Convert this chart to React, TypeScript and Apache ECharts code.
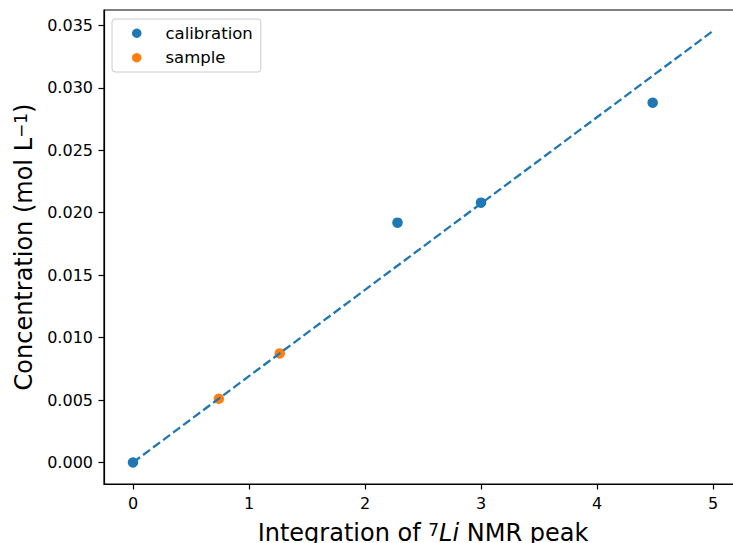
import React, { useEffect, useRef } from "react";
import * as echarts from "echarts";

// Calibration standards: integrated 7Li NMR peak vs. known concentration
const calibrationX = [0, 2.28, 3.0, 4.48];
const calibrationY = [0, 0.0192, 0.0208, 0.0288];

// Unknown samples placed on the calibration line
const sampleX = [0.74, 1.265];
const sampleY = [0.0051, 0.00873];

// Linear fit through the origin
const fitX = [0, 5];
const fitY = [0, 0.03455];

const xTicks = [0, 1, 2, 3, 4, 5];
const yTicks = [0, 0.005, 0.01, 0.015, 0.02, 0.025, 0.03, 0.035];

const FONT = "DejaVu Sans";
const BLUE = "#1f77b4";
const ORANGE = "#ff7f0e";

export default function App() {
  const ref = useRef<HTMLDivElement>(null);

  useEffect(() => {
    if (!ref.current) return;
    const chart = echarts.init(ref.current, null, { renderer: "svg" });

    const pair = (xs: number[], ys: number[]) => xs.map((x, i) => [x, ys[i]]);

    chart.setOption({
      animation: false,
      backgroundColor: "#ffffff",
      textStyle: { fontFamily: FONT },
      grid: {
        left: 104,
        top: 10,
        right: 18,
        bottom: 59,
        outerBoundsMode: "none",
        containLabel: false,
        show: true,
        borderColor: "#000",
        borderWidth: 1.2,
        backgroundColor: "transparent",
      },
      legend: {
        orient: "vertical",
        left: 112,
        top: 19,
        padding: [5, 8, 5, 20],
        itemGap: 6,
        itemWidth: 9.5,
        itemHeight: 9.5,
        icon: "circle",
        backgroundColor: "rgba(255,255,255,0.8)",
        borderColor: "#cccccc",
        borderWidth: 1,
        borderRadius: 3,
        textStyle: {
          fontFamily: FONT,
          fontSize: 16.5,
          color: "#000",
          lineHeight: 18.5,
          padding: [0, 0, 0, 19],
        },
        data: ["calibration", "sample"],
      },
      xAxis: {
        type: "value",
        min: -0.25,
        max: 5.25,
        splitLine: { show: false },
        axisLine: { show: true, onZero: false, lineStyle: { color: "#000", width: 1.2 } },
        axisTick: {
          show: true,
          length: 5.5,
          lineStyle: { color: "#000", width: 1.2 },
          customValues: xTicks,
        },
        axisLabel: {
          customValues: xTicks,
          margin: 11,
          fontFamily: FONT,
          fontSize: 16,
          color: "#000",
          formatter: (v: number) => String(v),
        },
        name: "{t|Integration of }{sup|7}{it|Li}{t| NMR peak}",
        nameLocation: "middle",
        nameGap: 37,
        nameTextStyle: {
          fontFamily: FONT,
          fontSize: 24,
          color: "#000",
          verticalAlign: "top",
          rich: {
            t: { fontFamily: FONT, fontSize: 24, color: "#000" },
            it: { fontFamily: FONT, fontSize: 24, color: "#000", fontStyle: "italic" },
            sup: { fontFamily: FONT, fontSize: 17, color: "#000", verticalAlign: "top" },
          },
        },
      },
      yAxis: {
        type: "value",
        min: -0.001725,
        max: 0.036225,
        splitLine: { show: false },
        axisLine: { show: true, onZero: false, lineStyle: { color: "#000", width: 1.2 } },
        axisTick: {
          show: true,
          length: 5.5,
          lineStyle: { color: "#000", width: 1.2 },
          customValues: yTicks,
        },
        axisLabel: {
          customValues: yTicks,
          margin: 11,
          fontFamily: FONT,
          fontSize: 16,
          color: "#000",
          formatter: (v: number) => v.toFixed(3),
        },
        name: "{t|Concentration (mol L}{sup|−1}{t|)}",
        nameLocation: "middle",
        nameGap: 65,
        nameTextStyle: {
          fontFamily: FONT,
          fontSize: 24,
          color: "#000",
          rich: {
            t: { fontFamily: FONT, fontSize: 24, color: "#000" },
            sup: { fontFamily: FONT, fontSize: 17, color: "#000", verticalAlign: "top" },
          },
        },
      },
      series: [
        {
          name: "calibration",
          type: "scatter",
          data: pair(calibrationX, calibrationY),
          symbol: "circle",
          symbolSize: 10.5,
          itemStyle: { color: BLUE, opacity: 1 },
          z: 2,
        },
        {
          name: "sample",
          type: "scatter",
          data: pair(sampleX, sampleY),
          symbol: "circle",
          symbolSize: 10.5,
          itemStyle: { color: ORANGE, opacity: 1 },
          z: 2,
        },
        {
          name: "fit",
          type: "line",
          data: pair(fitX, fitY),
          showSymbol: false,
          symbol: "none",
          lineStyle: { color: BLUE, width: 2.3, type: [8.7, 3.8] },
          z: 3,
        },
      ],
    });

    return () => chart.dispose();
  }, []);

  return (
    <div
      ref={ref}
      style={{ position: "fixed", left: 0, top: 0, width: 760, height: 543 }}
    />
  );
}
